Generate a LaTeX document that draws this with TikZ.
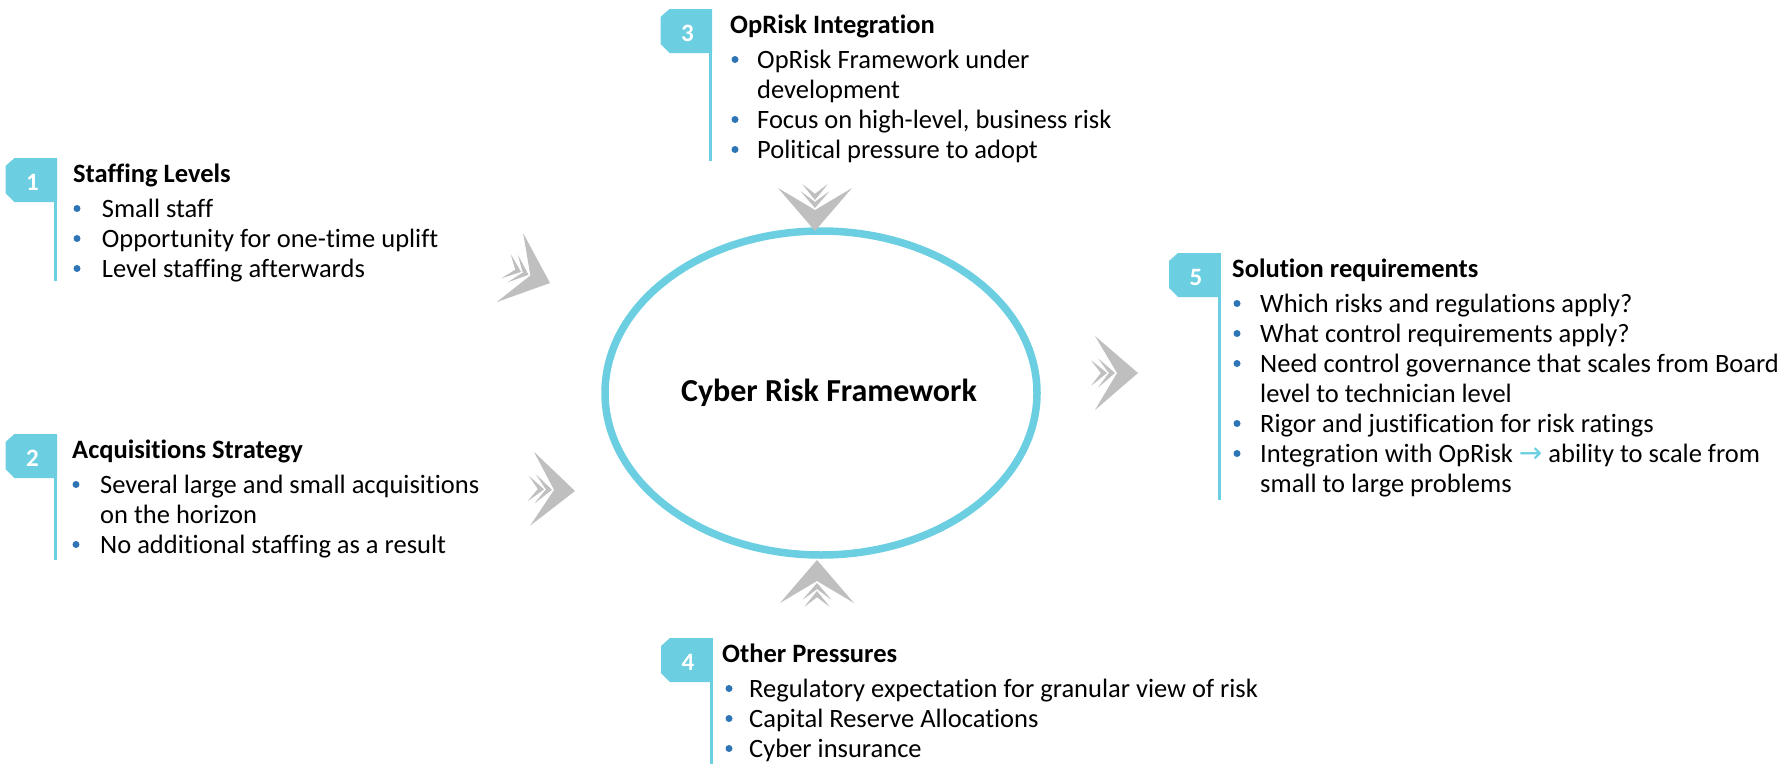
\documentclass[tikz,border=0pt]{standalone}
\usepackage{fontspec}
\setmainfont{Carlito}[Ligatures=CommonOff]
\newfontfamily\dejavu{DejaVu Sans}
\usetikzlibrary{shapes.geometric}
\definecolor{cy}{RGB}{107,207,225}
\definecolor{bulc}{RGB}{46,117,182}
\definecolor{chg}{RGB}{191,191,191}
\newcommand{\chev}[4]{%
  \coordinate (#1) at (#2,#3);
  \begin{scope}[shift={(#2,#3)},rotate=#4]
    \fill[chg] (0,0) -- (-43,37) -- (-21,0) -- (-43,-37) -- cycle;
    \filldraw[chg,draw=white,line width=1] (-22,0) -- (-44,19) -- (-30,0) -- (-44,-19) -- cycle;
    \filldraw[chg,draw=white,line width=1] (-30,0) -- (-51,17) -- (-38,0) -- (-51,-17) -- cycle;
  \end{scope}}
% name, line x, title baseline, line end, number
\newcommand{\badge}[5]{%
  \draw[cy,line width=3] (#2,#3-24) -- (#2,#4);
  \fill[cy] (#2-41,#3-24) -- (#2+1.5,#3-24) -- (#2+1.5,#3+20) -- (#2-41,#3+20)
            -- (#2-50,#3+11) -- (#2-50,#3-16) -- cycle;
  \node[num] (#1) at (#2-23,#3+8) {#5};}
\newcommand{\bit}[5]{%
  \fill[bulc] (#2,#4-8.5) circle (3.5);
  \node[itm] (#1) at (#3,#4) {#5};}
\begin{document}
\begin{tikzpicture}[x=1pt,y=-1pt,
  itm/.style={anchor=base west,inner sep=0,font=\fontsize{26.5}{30}\selectfont},
  ttl/.style={anchor=base west,inner sep=0,font=\fontsize{26.5}{30}\selectfont\bfseries},
  num/.style={anchor=base,inner sep=0,text=white,font=\fontsize{25}{30}\selectfont\bfseries}]
\fill[white] (0,0) rectangle (1787,763);
\useasboundingbox (0,0) rectangle (1787,763);

% central ellipse
\node[ellipse,draw=cy,line width=7.5,minimum width=432,minimum height=324,inner sep=0] (core) at (821,393) {};
\node[font=\fontsize{32}{36}\selectfont\bfseries,anchor=base] (lbl) at (829,401) {Cyber Risk Framework};

% chevrons
\chev{c1}{550}{283}{-21}
\chev{c2}{575}{491}{-3}
\chev{c3}{815}{231}{-90}
\chev{c4}{817}{560}{90}
\chev{c5}{1138}{373}{0}

% block 1
\badge{n1}{55.5}{182}{281}{1}
\node[ttl] (t1) at (73,182) {Staffing Levels};
\bit{b1a}{77}{101.7}{217}{Small staff}
\bit{b1b}{77}{101.7}{247}{Opportunity for one-time uplift}
\bit{b1c}{77}{101.7}{277}{Level staffing afterwards}

% block 2
\badge{n2}{55.5}{458}{560}{2}
\node[ttl] (t2) at (72,458) {Acquisitions Strategy};
\bit{b2a}{76}{100}{493}{Several large and small acquisitions}
\node[itm] (b2b) at (100,523) {on the horizon};
\bit{b2c}{76}{100}{553}{No additional staffing as a result}

% block 3
\badge{n3}{710.5}{33}{161}{3}
\node[ttl] (t3) at (730,33) {OpRisk Integration};
\bit{b3a}{735}{757}{68}{OpRisk Framework under}
\node[itm] (b3b) at (757,98) {development};
\bit{b3c}{735}{757}{128}{Focus on high-level, business risk}
\bit{b3d}{735}{757}{158}{Political pressure to adopt}

% block 4
\badge{n4}{711}{662}{775}{4}
\node[ttl] (t4) at (722,662) {Other Pressures};
\bit{b4a}{729}{749}{697}{Regulatory expectation for granular view of risk}
\bit{b4b}{729}{749}{727}{Capital Reserve Allocations}
\bit{b4c}{729}{749}{757}{Cyber insurance}

% block 5
\badge{n5}{1219}{277}{500}{5}
\node[ttl] (t5) at (1232,277) {Solution requirements};
\bit{b5a}{1237}{1260}{312}{Which risks and regulations apply?}
\bit{b5b}{1237}{1260}{342}{What control requirements apply?}
\bit{b5c}{1237}{1260}{372}{Need control governance that scales from Board}
\node[itm] (b5d) at (1260,402) {level to technician level};
\bit{b5e}{1237}{1260}{432}{Rigor and justification for risk ratings}
\bit{b5f}{1237}{1260}{462}{Integration with OpRisk {\dejavu\fontsize{28}{30}\selectfont\textcolor{cy}{→}} ability to scale from}
\node[itm] (b5g) at (1260,492) {small to large problems};
\end{tikzpicture}
\end{document}
